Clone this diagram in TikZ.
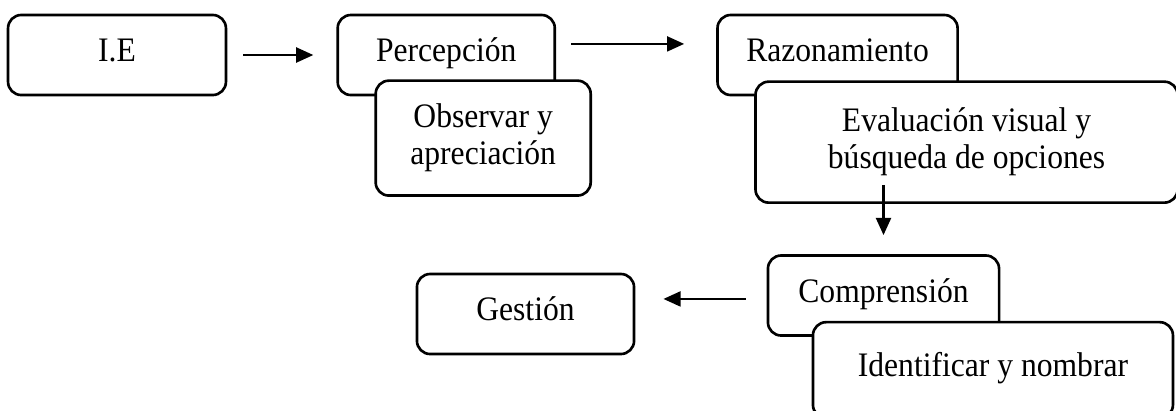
\documentclass[tikz,border=0pt]{standalone}
\usepackage{fontspec}
\setmainfont[FakeStretch=0.92]{Liberation Serif}
\usepackage{tikz}
\usetikzlibrary{positioning,calc,arrows.meta}
\tikzstyle{every picture}+=[font=\fontsize{13}{14}\selectfont]
\tikzset{%
  stage/.style={%
    draw, fill=white, rounded corners=5pt, line width=1pt,
    minimum height=30.3pt, text height=8.5pt, text depth=3.5pt
  },
  detail/.style={%
    draw, fill=white, rounded corners=5pt, line width=1pt, align=center
  },
  arrow/.style={line width=1pt,-{Triangle[length=6.5pt,width=5.6pt]}},
}

\begin{document}
\begin{tikzpicture}[x=0.3786pt, y=-0.3786pt]
        \useasboundingbox (0,0) rectangle (1176,410);
        \clip (0,0) rectangle (1176,410);

        \node (IE)[stage, minimum width=82.5pt] at (117,55) {I.E};
        \node (Percepcion)[stage, minimum width=82.2pt, right=41.3pt of IE] {Percepción};
        \node (Observar)[detail, minimum width=81.4pt, minimum height=43.5pt, anchor=north west]
            at ($(Percepcion.south west)+(38,-17)$) {Observar y\\apreciación};
        \node (Razonamiento)[stage, minimum width=90.9pt, right=60.6pt of Percepcion] {Razonamiento};
        \node (Evaluacion)[detail, minimum width=159.8pt, minimum height=45.8pt, anchor=north west]
            at ($(Razonamiento.south west)+(38,-16)$) {Evaluación visual y\\búsqueda de opciones};
        \node (Comprension)[stage, minimum width=87.5pt] at (883.5,295.5) {Comprensión};
        \node (Identificar)[stage, minimum width=136.3pt, minimum height=36.3pt, anchor=north west]
            at ($(Comprension.south west)+(45,-16)$) {Identificar y nombrar};
        \node (Gestion)[stage, minimum width=82.2pt] at (525.5,314) {Gestión};

        \coordinate (EvalFoot) at ([yshift=7.2pt]Evaluacion.south -| Comprension.north);

        \path[arrow]
            (IE) edge[shorten <=6pt, shorten >=8.7pt] (Percepcion)
            ([yshift=4.2pt]Percepcion.east) edge[shorten <=5.7pt, shorten >=12.1pt] ([yshift=4.2pt]Razonamiento.west)
            (EvalFoot) edge[shorten >=7.2pt] (Comprension.north)
            ([yshift=-1.3pt]Comprension.west) edge[shorten <=8pt, shorten >=10.6pt] ([yshift=-1.3pt]Comprension.west -| Gestion.east);
    \end{tikzpicture}
\end{document}
